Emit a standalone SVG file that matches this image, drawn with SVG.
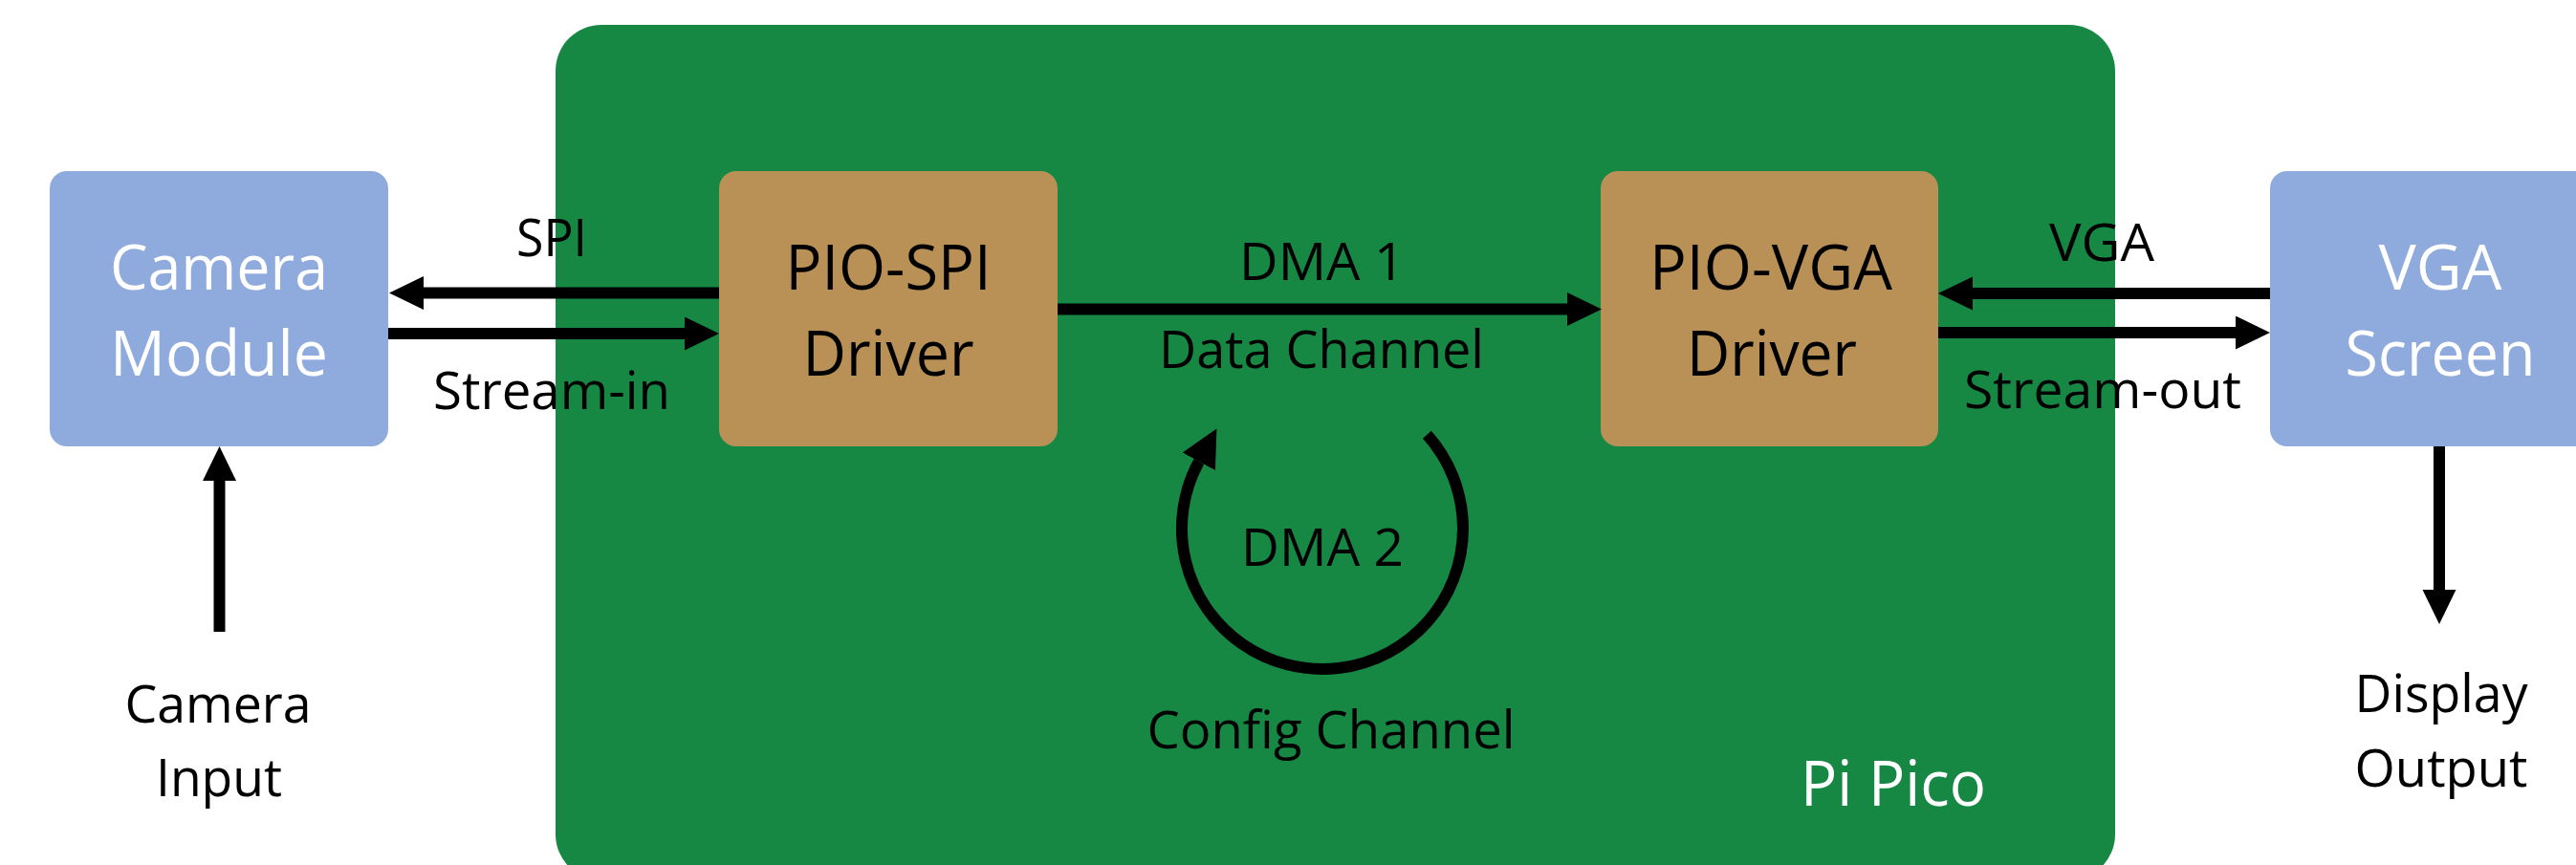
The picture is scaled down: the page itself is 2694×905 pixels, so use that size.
<svg xmlns="http://www.w3.org/2000/svg" width="2694" height="905" viewBox="0 0 2694 905">
  <style>
    .bg { fill: #ffffff; }
    .board { fill: #178844; }
    .ext { fill: #8FAADC; }
    .pio { fill: #B99157; }
    text { font-family: "Open Sans", "Lato", "Liberation Sans", sans-serif; text-anchor: middle; }
    .big { font-size: 66px; }
    .lbl { font-size: 54px; fill: #000000; }
    .white { fill: #ffffff; }
    .black { fill: #000000; }
    .wire { stroke: #000000; stroke-width: 12; fill: none; stroke-linecap: butt; }
  </style>
  <defs>
    <!-- arrowhead placed at the shaft end (its base), pointing forward -->
    <marker id="head" markerUnits="userSpaceOnUse" markerWidth="40" markerHeight="40" refX="0" refY="17.5" orient="auto" viewBox="0 0 40 40">
      <path d="M0,0 L36,17.5 L0,35 Z" fill="#000000"/>
    </marker>
    <marker id="headArc" markerUnits="userSpaceOnUse" markerWidth="44" markerHeight="44" refX="0" refY="19.5" orient="auto" viewBox="0 0 44 44">
      <path d="M0,0 L39,19.5 L0,39 Z" fill="#000000"/>
    </marker>
  </defs>

  <rect class="bg" x="0" y="0" width="2694" height="905"/>

  <!-- Pi Pico board -->
  <g id="pi-pico">
    <rect class="board" x="581" y="26" width="1631" height="895" rx="48" ry="48"/>
    <text class="big white" x="1980" y="843" textLength="194" lengthAdjust="spacingAndGlyphs">Pi Pico</text>
  </g>

  <g id="camera-module">
    <rect class="ext" x="52" y="179" width="354" height="288" rx="18" ry="18"/>
    <text class="big white" x="229" y="303" textLength="228" lengthAdjust="spacingAndGlyphs">Camera</text>
    <text class="big white" x="229" y="393" textLength="228" lengthAdjust="spacingAndGlyphs">Module</text>
  </g>

  <g id="pio-spi">
    <rect class="pio" x="752" y="179" width="354" height="288" rx="18" ry="18"/>
    <text class="big black" x="929" y="303" textLength="215" lengthAdjust="spacingAndGlyphs">PIO-SPI</text>
    <text class="big black" x="929" y="393" textLength="179" lengthAdjust="spacingAndGlyphs">Driver</text>
  </g>

  <g id="pio-vga">
    <rect class="pio" x="1674" y="179" width="353" height="288" rx="18" ry="18"/>
    <text class="big black" x="1852" y="303" textLength="254" lengthAdjust="spacingAndGlyphs">PIO-VGA</text>
    <text class="big black" x="1853" y="393" textLength="178" lengthAdjust="spacingAndGlyphs">Driver</text>
  </g>

  <g id="vga-screen">
    <rect class="ext" x="2374" y="179" width="354" height="288" rx="18" ry="18"/>
    <text class="big white" x="2552" y="303" textLength="129" lengthAdjust="spacingAndGlyphs">VGA</text>
    <text class="big white" x="2552" y="393" textLength="199" lengthAdjust="spacingAndGlyphs">Screen</text>
  </g>

  <g id="camera-input">
    <text class="lbl" x="228" y="756" textLength="195" lengthAdjust="spacingAndGlyphs">Camera</text>
    <text class="lbl" x="229" y="833" textLength="132" lengthAdjust="spacingAndGlyphs">Input</text>
  </g>

  <g id="display-output">
    <text class="lbl" x="2553" y="745" textLength="181" lengthAdjust="spacingAndGlyphs">Display</text>
    <text class="lbl" x="2553" y="823" textLength="181" lengthAdjust="spacingAndGlyphs">Output</text>
  </g>

  <!-- connectors -->
  <g id="connectors">
    <!-- SPI: driver to camera -->
    <path class="wire" d="M752,306.5 L443,306.5" marker-end="url(#head)"/>
    <!-- Stream-in: camera to driver -->
    <path class="wire" d="M406,349 L716,349" marker-end="url(#head)"/>
    <!-- DMA 1 data channel -->
    <path class="wire" d="M1106,323.5 L1639,323.5" marker-end="url(#head)"/>
    <!-- VGA: screen to driver -->
    <path class="wire" d="M2374,307 L2063,307" marker-end="url(#head)"/>
    <!-- Stream-out: driver to screen -->
    <path class="wire" d="M2027,348 L2338,348" marker-end="url(#head)"/>
    <!-- camera input -->
    <path class="wire" d="M229.5,661 L229.5,503" marker-end="url(#head)"/>
    <!-- display output -->
    <path class="wire" d="M2551,467 L2551,617" marker-end="url(#head)"/>
    <!-- DMA 2 config channel loop -->
    <path class="wire" stroke-width="13" d="M1492.4,454.8 A147,147 0 1 1 1253.8,482.8" marker-end="url(#headArc)"/>

    <text class="lbl" x="577" y="268" textLength="74" lengthAdjust="spacingAndGlyphs">SPI</text>
    <text class="lbl" x="577" y="428" textLength="248" lengthAdjust="spacingAndGlyphs">Stream-in</text>
    <text class="lbl" x="1382.5" y="293" textLength="173" lengthAdjust="spacingAndGlyphs">DMA 1</text>
    <text class="lbl" x="1382" y="385" textLength="340" lengthAdjust="spacingAndGlyphs">Data Channel</text>
    <text class="lbl" x="2198" y="273" textLength="110" lengthAdjust="spacingAndGlyphs">VGA</text>
    <text class="lbl" x="2199" y="427" textLength="290" lengthAdjust="spacingAndGlyphs">Stream-out</text>
    <text class="lbl" x="1383" y="592" textLength="170" lengthAdjust="spacingAndGlyphs">DMA 2</text>
    <text class="lbl" x="1392" y="783" textLength="385" lengthAdjust="spacingAndGlyphs">Config Channel</text>
  </g>
</svg>
